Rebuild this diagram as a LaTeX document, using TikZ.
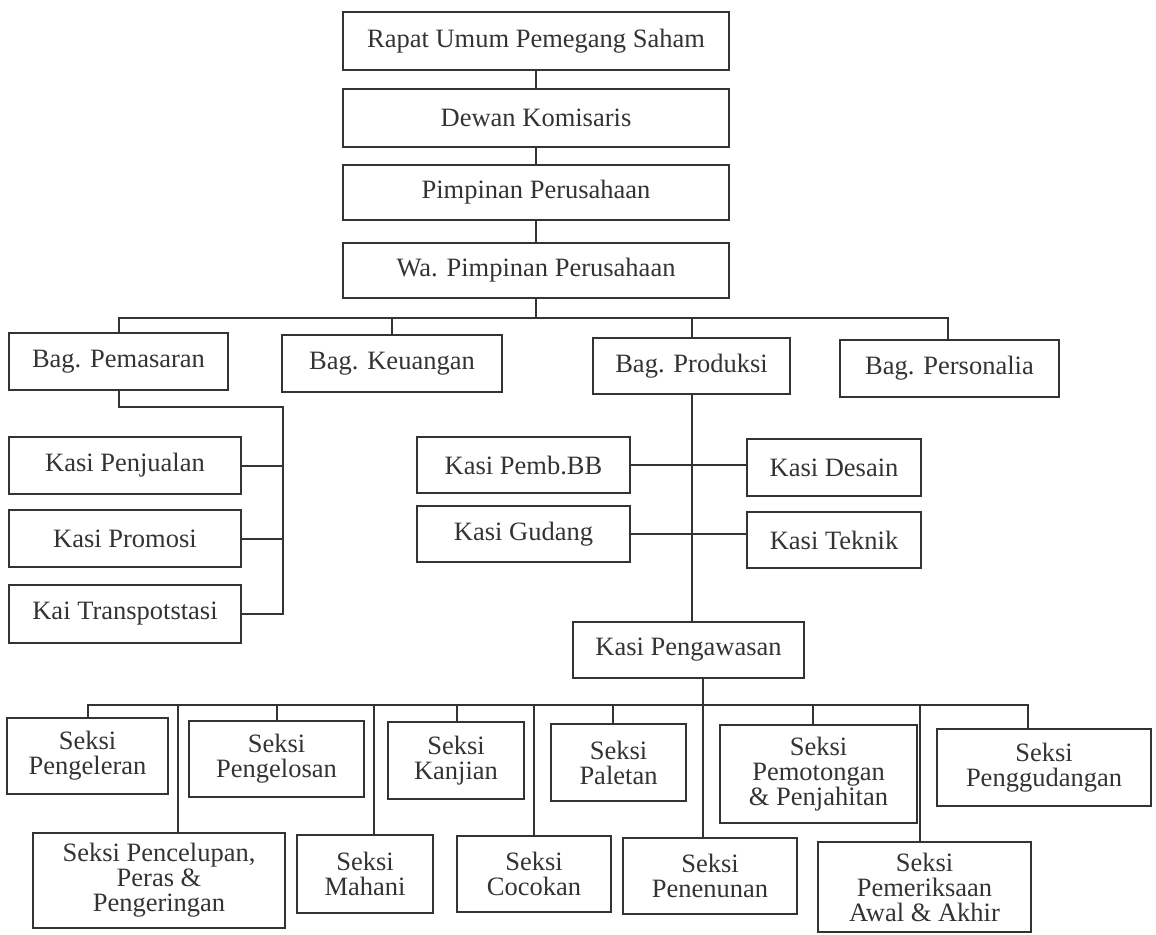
\documentclass[tikz,border=0pt]{standalone}
\usepackage{fontspec}
\setmainfont{Liberation Serif}
\begin{document}
\begin{tikzpicture}[x=1pt,y=-1pt,line width=2pt,color=black!80,
  kotak/.style={draw,align=center,inner sep=0pt,font=\fontsize{26.5}{25}\selectfont}]
\useasboundingbox (0,0) rectangle (1156,934);
% pimpinan
\node[kotak,minimum width=386,minimum height=58] (rups) at (536,41) {Rapat Umum Pemegang Saham};
\node[kotak,minimum width=386,minimum height=58] (dewan) at (536,118) {Dewan Komisaris};
\node[kotak,minimum width=386,minimum height=55] (pimp) at (536,192.5) {Pimpinan Perusahaan};
\node[kotak,minimum width=386,minimum height=55] (wapimp) at (536,270.5) {Wa. Pimpinan Perusahaan};
% bagian
\node[kotak,minimum width=219,minimum height=57] (pemasaran) at (118.5,361.5) {Bag. Pemasaran};
\node[kotak,minimum width=220,minimum height=57] (keuangan) at (392,363.5) {Bag. Keuangan};
\node[kotak,minimum width=197,minimum height=56] (produksi) at (691.5,366) {Bag. Produksi};
\node[kotak,minimum width=219,minimum height=57] (personalia) at (949.5,368.5) {Bag. Personalia};
% kasi
\node[kotak,minimum width=232,minimum height=57] (penjualan) at (125,465.5) {Kasi Penjualan};
\node[kotak,minimum width=232,minimum height=57] (promosi) at (125,538.5) {Kasi Promosi};
\node[kotak,minimum width=232,minimum height=58] (transport) at (125,614) {Kai Transpotstasi};
\node[kotak,minimum width=213,minimum height=56] (pembbb) at (523.5,465) {Kasi Pemb.BB};
\node[kotak,minimum width=213,minimum height=56] (gudang) at (523.5,534) {Kasi Gudang};
\node[kotak,minimum width=174,minimum height=57] (desain) at (834,467.5) {Kasi Desain};
\node[kotak,minimum width=174,minimum height=56] (teknik) at (834,540) {Kasi Teknik};
\node[kotak,minimum width=231,minimum height=56] (pengawasan) at (688.5,650) {Kasi Pengawasan};
% seksi
\node[kotak,minimum width=161,minimum height=76] (pengeleran) at (87.5,756) {Seksi\\Pengeleran};
\node[kotak,minimum width=175,minimum height=76] (pengelosan) at (276.5,759) {Seksi\\Pengelosan};
\node[kotak,minimum width=136,minimum height=77] (kanjian) at (456,760.5) {Seksi\\Kanjian};
\node[kotak,minimum width=135,minimum height=77] (paletan) at (618.5,762.5) {Seksi\\Paletan};
\node[kotak,minimum width=197,minimum height=98] (pemotongan) at (818.5,774) {Seksi\\Pemotongan\\\& Penjahitan};
\node[kotak,minimum width=214,minimum height=77] (penggudangan) at (1044,767.5) {Seksi\\Penggudangan};
\node[kotak,minimum width=252,minimum height=95] (pencelupan) at (159,880.5) {Seksi Pencelupan,\\Peras \&\\Pengeringan};
\node[kotak,minimum width=136,minimum height=78] (mahani) at (365,874) {Seksi\\Mahani};
\node[kotak,minimum width=154,minimum height=76] (cocokan) at (534,874) {Seksi\\Cocokan};
\node[kotak,minimum width=174,minimum height=76] (penenunan) at (710,876) {Seksi\\Penenunan};
\node[kotak,minimum width=213,minimum height=90] (pemeriksaan) at (924.5,887) {Seksi\\Pemeriksaan\\Awal \& Akhir};
% garis atas
\draw (rups) -- (dewan);
\draw (dewan) -- (pimp);
\draw (pimp) -- (wapimp);
\coordinate (busA) at (536,318);
\draw (wapimp.south) -- (busA);
\draw (pemasaran.north) |- (busA) -| ([xshift=-1.5]personalia.north);
\draw (keuangan.north) |- (busA);
\draw (produksi.north) |- (busA);
% pemasaran
\coordinate (jalurA) at (283,407);
\draw (pemasaran.south) |- (jalurA) |- (transport.east);
\draw (penjualan.east) -- (penjualan.east -| jalurA);
\draw (promosi.east) -- (promosi.east -| jalurA);
% produksi
\draw (produksi.south) -- (produksi.south |- pengawasan.north);
\draw (pembbb.east) -- (pembbb.east -| desain.west);
\draw (gudang.east) -- (gudang.east -| teknik.west);
% pengawasan
\coordinate (busB) at (703,705);
\draw (pengawasan.south -| busB) -- ([xshift=-7]penenunan.north);
\draw (pengeleran.north) |- (busB) -| ([xshift=-16]penggudangan.north);
\foreach \n/\s in {pengelosan/0,kanjian/1,paletan/-6,pemotongan/-6,pencelupan/19,mahani/9,cocokan/0,pemeriksaan/-5}
  \draw ([xshift=\s]\n.north) |- (busB);
\end{tikzpicture}
\end{document}
